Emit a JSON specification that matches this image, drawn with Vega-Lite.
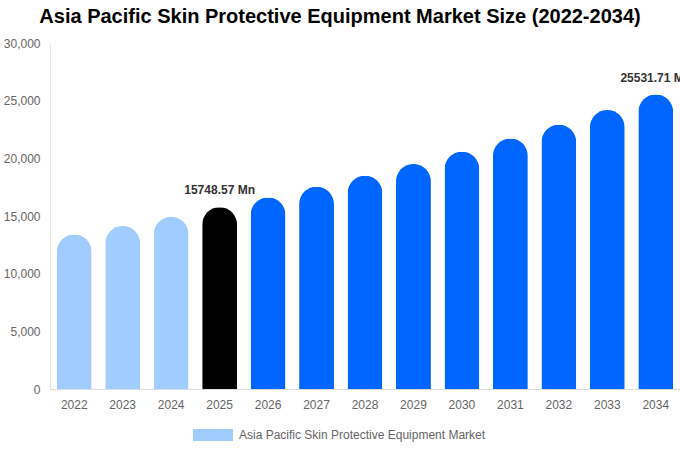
{
  "$schema": "https://vega.github.io/schema/vega-lite/v6.json",
  "width": 630,
  "height": 346,
  "autosize": {"type": "none"},
  "padding": {"left": 50, "top": 43, "right": 0, "bottom": 61},
  "background": "white",
  "title": {
    "text": "Asia Pacific Skin Protective Equipment Market Size (2022-2034)",
    "font": "Liberation Sans",
    "fontSize": 20,
    "fontWeight": "bold",
    "color": "#000000",
    "anchor": "middle",
    "frame": "group",
    "dx": -25,
    "offset": 10
  },
  "data": {
    "values": [
      {"year": "2022", "size": 13400, "series": "Asia Pacific Skin Protective Equipment Market", "label": ""},
      {"year": "2023", "size": 14130, "series": "Asia Pacific Skin Protective Equipment Market", "label": ""},
      {"year": "2024", "size": 14920, "series": "Asia Pacific Skin Protective Equipment Market", "label": ""},
      {"year": "2025", "size": 15748.57, "series": "Asia Pacific Skin Protective Equipment Market", "label": "15748.57 Mn"},
      {"year": "2026", "size": 16610, "series": "Asia Pacific Skin Protective Equipment Market", "label": ""},
      {"year": "2027", "size": 17530, "series": "Asia Pacific Skin Protective Equipment Market", "label": ""},
      {"year": "2028", "size": 18500, "series": "Asia Pacific Skin Protective Equipment Market", "label": ""},
      {"year": "2029", "size": 19510, "series": "Asia Pacific Skin Protective Equipment Market", "label": ""},
      {"year": "2030", "size": 20580, "series": "Asia Pacific Skin Protective Equipment Market", "label": ""},
      {"year": "2031", "size": 21720, "series": "Asia Pacific Skin Protective Equipment Market", "label": ""},
      {"year": "2032", "size": 22920, "series": "Asia Pacific Skin Protective Equipment Market", "label": ""},
      {"year": "2033", "size": 24190, "series": "Asia Pacific Skin Protective Equipment Market", "label": ""},
      {"year": "2034", "size": 25531.71, "series": "Asia Pacific Skin Protective Equipment Market", "label": "25531.71 Mn"}
    ]
  },
  "encoding": {
    "x": {
      "field": "year",
      "type": "ordinal",
      "title": null,
      "scale": {"paddingInner": 0.28, "paddingOuter": 0.14},
      "axis": {
        "labelAngle": 0,
        "labelFont": "Liberation Sans",
        "labelFontSize": 12,
        "labelColor": "#666666",
        "labelPadding": 10,
        "ticks": false,
        "domainColor": "#dddddd",
        "grid": false
      }
    },
    "y": {
      "field": "size",
      "type": "quantitative",
      "title": null,
      "scale": {"domain": [0, 30000]},
      "axis": {
        "values": [0, 5000, 10000, 15000, 20000, 25000, 30000],
        "format": ",.0f",
        "labelFont": "Liberation Sans",
        "labelFontSize": 12,
        "labelColor": "#666666",
        "labelPadding": 10,
        "ticks": false,
        "domainColor": "#e6e6e6",
        "grid": false
      }
    }
  },
  "layer": [
    {
      "mark": {
        "type": "bar",
        "cornerRadiusTopLeft": 17.5,
        "cornerRadiusTopRight": 17.5
      },
      "encoding": {
        "color": {
          "condition": [
            {"test": "datum.year == '2025'", "value": "#000000"},
            {"test": "toNumber(datum.year) > 2025", "value": "#0066ff"}
          ],
          "field": "series",
          "type": "nominal",
          "scale": {"range": ["#a0cdfd"]},
          "legend": {
            "title": null,
            "orient": "none",
            "legendX": 143,
            "legendY": 372,
            "symbolType": "M-1,-0.3H1V0.3H-1Z",
            "symbolSize": 1600,
            "symbolStrokeWidth": 0,
            "labelFont": "Liberation Sans",
            "labelFontSize": 12,
            "labelColor": "#666666",
            "labelOffset": 6,
            "labelLimit": 500
          }
        }
      }
    },
    {
      "mark": {
        "type": "text",
        "baseline": "bottom",
        "dy": -10,
        "font": "Liberation Sans",
        "fontSize": 12,
        "fontWeight": "bold",
        "color": "#333333"
      },
      "encoding": {
        "text": {"field": "label"}
      }
    }
  ],
  "config": {
    "view": {"stroke": null}
  }
}
